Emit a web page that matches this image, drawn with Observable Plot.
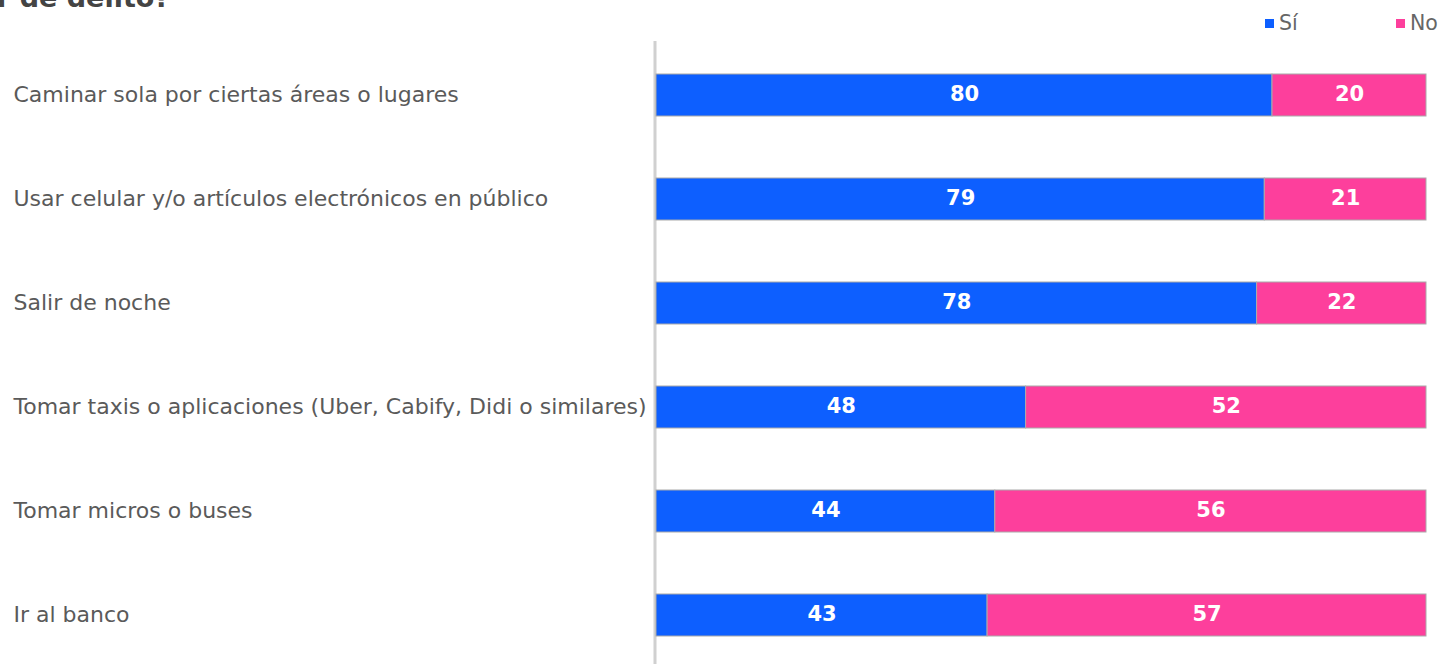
<!DOCTYPE html>
<html>
<head>
<meta charset="utf-8">
<script src="https://cdn.jsdelivr.net/npm/d3@7"></script>
<script src="https://cdn.jsdelivr.net/npm/@observablehq/plot@0.6"></script>
<style>
  html, body { margin: 0; padding: 0; background: #fff; overflow: hidden; }
  #wrap { position: relative; width: 1447px; height: 664px; overflow: hidden; }
  #title { position: absolute; left: -3px; top: -16px; font: bold 27px/1 "DejaVu Sans", sans-serif; color: #444; white-space: nowrap; }
  .leg { position: absolute; top: 13px; font: 20.5px/1 "DejaVu Sans", sans-serif; color: #666; white-space: nowrap; }
  .leg span { display: inline-block; width: 9px; height: 9px; margin-right: 5px; vertical-align: 2px; }
  #chart { position: absolute; left: 0; top: 0; }
</style>
</head>
<body>
<div id="wrap">
  <div id="title">r de delito?</div>
  <div id="legend"></div>
  <div id="chart"></div>
</div>
<script>
const categories = [
  "Caminar sola por ciertas áreas o lugares",
  "Usar celular y/o artículos electrónicos en público",
  "Salir de noche",
  "Tomar taxis o aplicaciones (Uber, Cabify, Didi o similares)",
  "Tomar micros o buses",
  "Ir al banco"
];
const seriesNames = ["Sí", "No"];
const siValues = [80, 79, 78, 48, 44, 43];
const noValues = [20, 21, 22, 52, 56, 57];
const colors = ["#0d5fff", "#fd3f9c"];

const data = [];
categories.forEach((c, i) => {
  data.push({cat: c, series: seriesNames[0], value: siValues[i]});
  data.push({cat: c, series: seriesNames[1], value: noValues[i]});
});

// legend
const legendPos = [1265, 1396];
const legendEl = document.getElementById("legend");
seriesNames.forEach((s, i) => {
  const d = document.createElement("div");
  d.className = "leg";
  d.style.left = legendPos[i] + "px";
  d.innerHTML = `<span style="background:${colors[i]}"></span>${s}`;
  legendEl.appendChild(d);
});

const chart = Plot.plot({
  width: 1447,
  height: 668,
  marginLeft: 656,
  marginRight: 21,
  marginTop: 41,
  marginBottom: 0,
  style: {fontFamily: "DejaVu Sans, sans-serif", background: "transparent"},
  x: {domain: [0, 100], axis: null},
  y: {domain: categories, axis: null, paddingInner: 0.6, paddingOuter: 0.3},
  color: {domain: seriesNames, range: colors},
  marks: [
    Plot.ruleX([0], {stroke: "#d0d0d0", strokeWidth: 3, dx: -1.5}),
    Plot.barX(data, Plot.stackX({x: "value", y: "cat", fill: "series", order: null, stroke: "#aaaaaa", strokeWidth: 1})),
    Plot.text(data, Plot.stackX({x: "value", y: "cat", z: "series", order: null, text: d => String(d.value), fill: "white", fontWeight: "bold", fontSize: 21, dy: -1})),
    Plot.text(categories, {y: d => d, text: d => d, frameAnchor: "left", textAnchor: "start", dx: -643, dy: -1, fill: "#5a5a5a", fontSize: 22})
  ]
});
document.getElementById("chart").appendChild(chart);
</script>
</body>
</html>
